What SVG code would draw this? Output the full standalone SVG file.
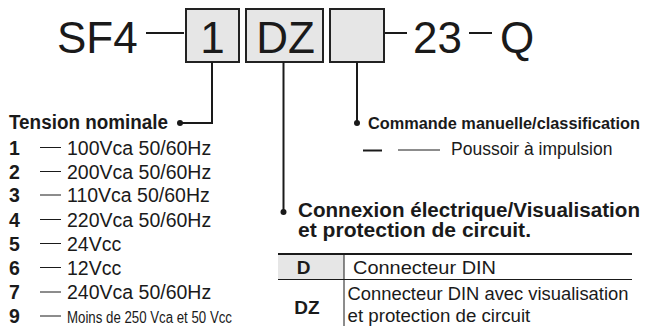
<svg xmlns="http://www.w3.org/2000/svg" width="653" height="326" viewBox="0 0 653 326">
<style>
.t{font-family:"Liberation Sans",Arial,sans-serif;fill:#1a1a1a}
.big{font-size:44px}
.b{font-weight:bold}
.row{font-size:19.5px}
.box{fill:#e6e6e6;stroke:#222;stroke-width:2}
.ln{stroke:#1a1a1a;stroke-width:2;fill:none}
.thin{stroke:#1a1a1a;stroke-width:1;fill:none}
.dot{fill:#1a1a1a}
</style>
<g id="code">
<text class="t big" x="57" y="53">SF4</text>
<line class="ln" x1="146" y1="33" x2="184" y2="33"/>
<text class="t big" x="413" y="53">23</text>
<line class="ln" x1="384" y1="33" x2="407" y2="33"/>
<line class="ln" x1="469" y1="33" x2="492" y2="33"/>
<text class="t big" x="500" y="53">Q</text>
</g>
<g id="box-voltage">
<rect class="box" x="186" y="9" width="53" height="53"/>
<text class="t big" x="212.5" y="53" text-anchor="middle">1</text>
</g>
<g id="box-connection">
<rect class="box" x="246" y="9" width="77" height="53"/>
<text class="t big" x="285.5" y="53" text-anchor="middle">DZ</text>
</g>
<g id="box-manual">
<rect class="box" x="330" y="9" width="54" height="53"/>
</g>
<g id="connectors">
<polyline class="ln" points="212,62 212,123 180,123"/>
<circle class="dot" cx="180" cy="123" r="3"/>
<line class="ln" x1="283.5" y1="62" x2="283.5" y2="212"/>
<circle class="dot" cx="283.5" cy="212" r="3"/>
<line class="ln" x1="357" y1="62" x2="357" y2="123"/>
<circle class="dot" cx="357" cy="123" r="3"/>
</g>
<g id="voltage-list">
<text class="t b" x="9" y="129" font-size="20" textLength="159" lengthAdjust="spacingAndGlyphs">Tension nominale</text>
<g class="t b row">
<text x="9" y="154.5">1</text>
<text x="9" y="178.5">2</text>
<text x="9" y="202">3</text>
<text x="9" y="226.5">4</text>
<text x="9" y="250.5">5</text>
<text x="9" y="274.5">6</text>
<text x="9" y="299">7</text>
<text x="9" y="323">9</text>
</g>
<g class="thin">
<line x1="40" y1="147.5" x2="61" y2="147.5"/>
<line x1="40" y1="171.5" x2="61" y2="171.5"/>
<line x1="40" y1="195" x2="61" y2="195"/>
<line x1="40" y1="219.5" x2="61" y2="219.5"/>
<line x1="40" y1="243.5" x2="61" y2="243.5"/>
<line x1="40" y1="267.5" x2="61" y2="267.5"/>
<line x1="40" y1="292" x2="61" y2="292"/>
<line x1="40" y1="316" x2="61" y2="316"/>
</g>
<g class="t row">
<text x="67" y="154.5">100Vca 50/60Hz</text>
<text x="67" y="178.5">200Vca 50/60Hz</text>
<text x="67" y="202">110Vca 50/60Hz</text>
<text x="67" y="226.5">220Vca 50/60Hz</text>
<text x="67" y="250.5">24Vcc</text>
<text x="67" y="274.5">12Vcc</text>
<text x="67" y="299">240Vca 50/60Hz</text>
<text x="67" y="323" font-size="16" textLength="165" lengthAdjust="spacingAndGlyphs">Moins de 250 Vca et 50 Vcc</text>
</g>
</g>
<g id="manual-list">
<text class="t b" x="368" y="129" font-size="16.5" textLength="272" lengthAdjust="spacingAndGlyphs">Commande manuelle/classification</text>
<line class="ln" x1="363" y1="150.5" x2="382" y2="150.5"/>
<line class="thin" x1="398" y1="150" x2="440" y2="150"/>
<text class="t" x="451" y="155" font-size="17.5">Poussoir à impulsion</text>
</g>
<g id="connection-table">
<text class="t b" x="298" y="217" font-size="20" textLength="342" lengthAdjust="spacingAndGlyphs">Connexion électrique/Visualisation</text>
<text class="t b" x="298" y="237" font-size="20" textLength="233" lengthAdjust="spacingAndGlyphs">et protection de circuit.</text>
<rect x="278" y="254" width="66" height="25.5" fill="#e6e6e6"/>
<line class="ln" x1="278" y1="254" x2="632" y2="254"/>
<line class="thin" x1="278" y1="279.5" x2="632" y2="279.5"/>
<line class="thin" x1="344" y1="254" x2="344" y2="326"/>
<text class="t b" x="303.5" y="274" font-size="19" text-anchor="middle">D</text>
<text class="t" x="353" y="274" font-size="19" textLength="143" lengthAdjust="spacingAndGlyphs">Connecteur DIN</text>
<text class="t b" x="307" y="313.5" font-size="19" text-anchor="middle">DZ</text>
<text class="t" x="347.5" y="300" font-size="18.7" textLength="281" lengthAdjust="spacingAndGlyphs">Connecteur DIN avec visualisation</text>
<text class="t" x="347.5" y="321.5" font-size="18.7">et protection de circuit</text>
</g>
</svg>
